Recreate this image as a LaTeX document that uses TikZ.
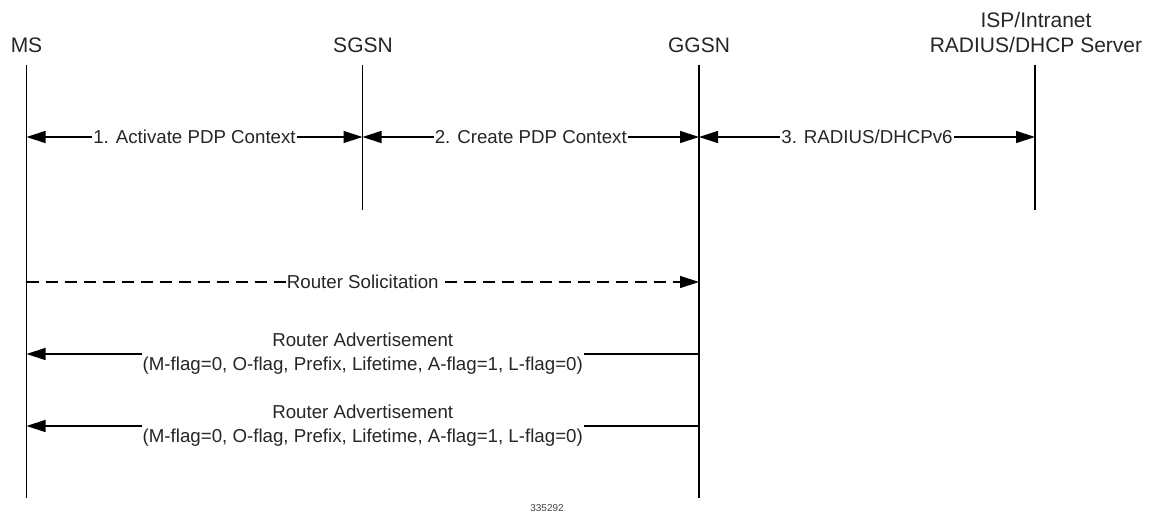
\documentclass[tikz,border=0pt]{standalone}
\usepackage{fontspec}
\setmainfont{Liberation Sans}
\usetikzlibrary{arrows.meta}
\begin{document}
\begin{tikzpicture}[x=1pt,y=-1pt,
  life/.style={line width=1.4pt, black},
  tipA/.tip={Triangle[length=19pt,width=12pt]},
  msg/.style={line width=1.4pt, black, -tipA},
  bimsg/.style={line width=1.4pt, black, tipA-tipA},
  lbl/.style={font=\fontsize{21}{25}\selectfont, text=black!85, inner sep=0pt},
  mtxt/.style={font=\fontsize{18.7}{24}\selectfont, fill=white, inner sep=1pt, align=center, text=black!85}]
\useasboundingbox (0,0) rectangle (1157,519);

% entity labels
\node[lbl, anchor=base] (msL) at (26.5,53) {MS};
\node[lbl, anchor=base] (sgL) at (363,53) {SGSN};
\node[lbl, anchor=base] (ggL) at (699,53) {GGSN};
\node[lbl, anchor=base, align=center] (srvL) at (1036,53) {RADIUS/DHCP Server};
\node[lbl, anchor=base] (srvL2) at (1036,28) {ISP/Intranet};

% lifeline coordinates
\coordinate (ms-t) at (26.5,65);  \coordinate (ms-b) at (26.5,498);
\coordinate (sg-t) at (362.5,65); \coordinate (sg-b) at (362.5,210);
\coordinate (gg-t) at (699,65);   \coordinate (gg-b) at (699,498);
\coordinate (sv-t) at (1035,65);  \coordinate (sv-b) at (1035,210);

\draw[life] (ms-t) -- (ms-b);
\draw[life] (sg-t) -- (sg-b);
\draw[life] (gg-t) -- (gg-b);
\draw[life] (sv-t) -- (sv-b);

% message anchor points
\coordinate (ms-1) at (26.5,137);  \coordinate (sg-1) at (362.5,137);
\coordinate (gg-1) at (699,137);   \coordinate (sv-1) at (1035,137);
\coordinate (ms-2) at (26.5,282);  \coordinate (gg-2) at (699,282);
\coordinate (ms-3) at (26.5,354);  \coordinate (gg-3) at (699,354);
\coordinate (ms-4) at (26.5,426);  \coordinate (gg-4) at (699,426);

\draw[bimsg] (ms-1) -- node[mtxt] (m1) {1. Activate PDP Context} (sg-1);
\draw[bimsg] (sg-1) -- node[mtxt] (m2) {2. Create PDP Context} (gg-1);
\draw[bimsg] (gg-1) -- node[mtxt] (m3) {3. RADIUS/DHCPv6} (sv-1);

\draw[msg, dash pattern=on 12pt off 7pt] (ms-2) -- node[mtxt] (m4) {Router Solicitation} (gg-2);
\draw[msg] (gg-3) -- node[mtxt] (m5) {Router Advertisement\\(M-flag=0, O-flag, Prefix, Lifetime, A-flag=1, L-flag=0)} (ms-3);
\draw[msg] (gg-4) -- node[mtxt] (m6) {Router Advertisement\\(M-flag=0, O-flag, Prefix, Lifetime, A-flag=1, L-flag=0)} (ms-4);

\node[font=\fontsize{10}{12}\selectfont, text=black!75] (fig) at (547,508) {335292};
\end{tikzpicture}
\end{document}
